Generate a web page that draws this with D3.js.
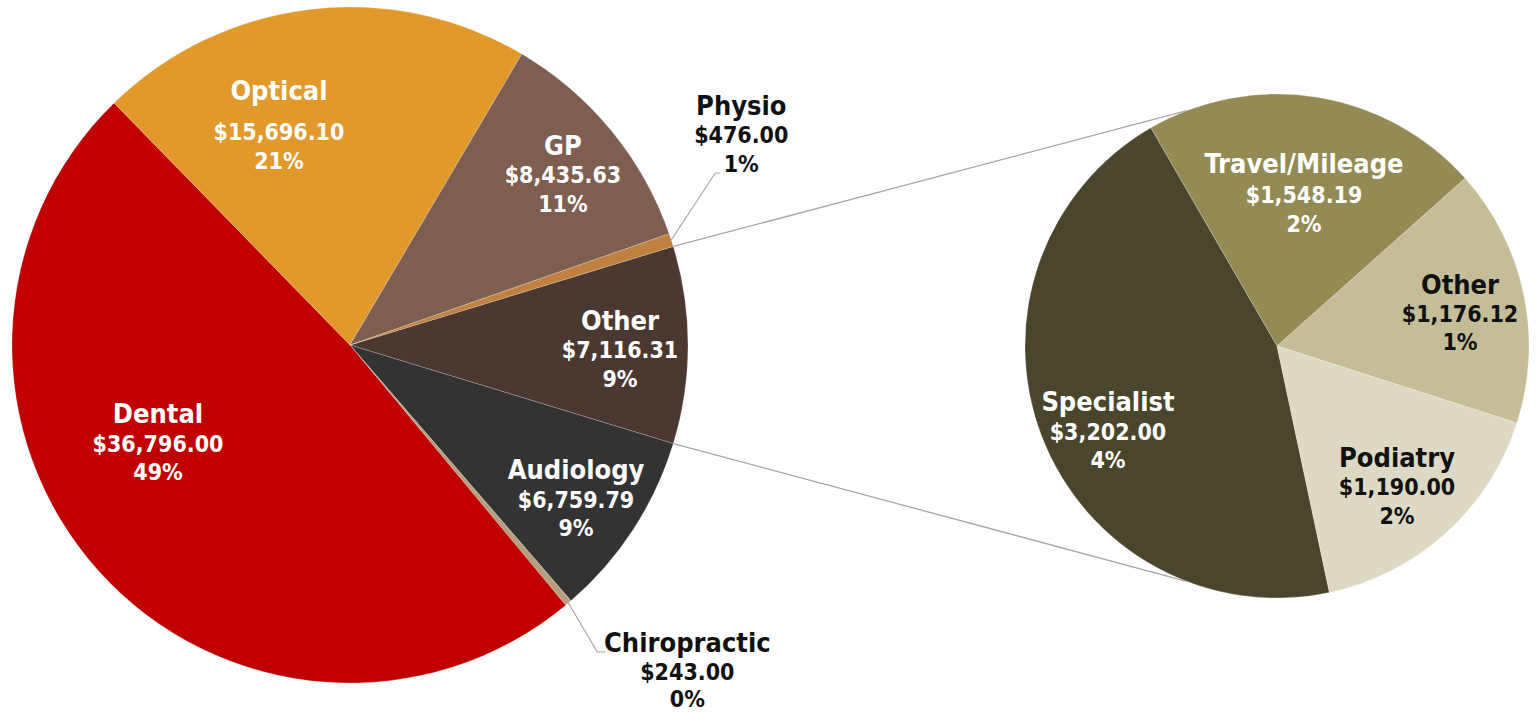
<!DOCTYPE html>
<html>
<head>
<meta charset="utf-8">
<script src="https://cdn.jsdelivr.net/npm/d3@7"></script>
<style>
  body { margin: 0; background: #fff; }
  text { font-family: "DejaVu Sans Condensed", "DejaVu Sans", sans-serif; font-weight: bold; font-stretch: condensed; }
</style>
</head>
<body>
<div id="chart"></div>
<script>
// size of the page
const width = 1538,
  height = 712;

// main pie data (first slice "Other" is the one split out to the right)
const mainNames = ["Other", "Audiology", "Chiropractic", "Dental", "Optical", "GP", "Physio"];
const mainValues = [7116.31, 6759.79, 243.00, 36796.00, 15696.10, 8435.63, 476.00];
const mainPct = ["9%", "9%", "0%", "49%", "21%", "11%", "1%"];

// second pie data (break-down of "Other")
const subNames = ["Specialist", "Travel/Mileage", "Other", "Podiatry"];
const subValues = [3202.00, 1548.19, 1176.12, 1190.00];
const subPct = ["4%", "2%", "1%", "2%"];

// colours
const mainColors = ["#4b3830", "#333333", "#b4a07e", "#c00000", "#e0992a", "#7d5e50", "#c0803f"];
const subColors = ["#4a452d", "#948a54", "#c4bd97", "#ddd9c4"];
const mainText = ["#fff", "#fff", "#111", "#fff", "#fff", "#fff", "#111"];
const subText = ["#fff", "#fff", "#111", "#111"];

// label placement: nudge from the label arc centroid [dx, dy, gap above the value line]
const mainNudge = {
  Other: [16.5, 13, 28.5],
  Audiology: [13.6, 24.6, 28.5],
  Dental: [-3.5, -62.5, 29],
  Optical: [-40.8, 46.7, 40],
  GP: [16.9, -1.3, 28.5]
};
const subNudge = {
  Specialist: [7.4, 26.2, 28.5],
  "Travel/Mileage": [-3, 43.6, 30],
  Other: [-1.9, 15.1, 27.5],
  Podiatry: [-6.7, 8.8, 28]
};
// labels outside the pie with a leader line: offset from slice edge, leader end offset from label
const outside = {
  Physio: { off: [70, -97], end: [-21, 30], elbow: -5, below: 28.5 },
  Chiropractic: { off: [119, 77], end: [-82, -28], elbow: -8, below: 26.5 }
};

const deg = Math.PI / 180;
const money = d3.format("$,.2f");

const svg = d3.select("#chart")
  .append("svg")
  .attr("width", width)
  .attr("height", height);

const main = { cx: 350, cy: 345, r: 338 };
const sub = { cx: 1277, cy: 346, r: 252 };

// main pie: the "Other" slice is centred on 3 o'clock
const total = d3.sum(mainValues);
const otherSpan = mainValues[0] / total * 2 * Math.PI;
const start = Math.PI / 2 - otherSpan / 2;
const mainPie = d3.pie().sort(null).startAngle(start).endAngle(start + 2 * Math.PI);
const mainArcs = mainPie(mainValues);

const subStart = 168 * deg;
const subPie = d3.pie().sort(null).startAngle(subStart).endAngle(subStart + 2 * Math.PI);
const subArcs = subPie(subValues);

// connector lines between the two pies
const otherArc = mainArcs[0];
const conn = [
  [otherArc.startAngle, 339 * deg],
  [otherArc.endAngle, 201 * deg]
];
svg.selectAll("line.conn")
  .data(conn)
  .join("line")
  .attr("class", "conn")
  .attr("x1", d => main.cx + d3.pointRadial(d[0], main.r)[0])
  .attr("y1", d => main.cy + d3.pointRadial(d[0], main.r)[1])
  .attr("x2", d => sub.cx + d3.pointRadial(d[1], sub.r)[0])
  .attr("y2", d => sub.cy + d3.pointRadial(d[1], sub.r)[1])
  .attr("stroke", "#a6a6a6")
  .attr("stroke-width", 1.3);

function drawPie(pos, arcs, names, pct, colors, textColors, nudge) {
  const g = svg.append("g").attr("transform", `translate(${pos.cx}, ${pos.cy})`);
  const arc = d3.arc().innerRadius(0).outerRadius(pos.r);
  const labelArc = d3.arc().innerRadius(pos.r * 0.75).outerRadius(pos.r * 0.75);
  const edgeArc = d3.arc().innerRadius(pos.r).outerRadius(pos.r);

  g.selectAll("path")
    .data(arcs)
    .join("path")
    .attr("d", arc)
    .attr("fill", (d, i) => colors[i])
    .attr("stroke", "#fff")
    .attr("stroke-opacity", 0.35)
    .attr("stroke-width", 0.6);

  arcs.forEach((d, i) => {
    const name = names[i];
    let x, y, gap = 28.5, below = 28.5;
    if (outside[name] && nudge === mainNudge) {
      const o = outside[name];
      const p = edgeArc.centroid(d);
      x = p[0] + o.off[0];
      y = p[1] + o.off[1];
      below = o.below;
      const end = [x + o.end[0], y + o.end[1]];
      g.append("polyline")
        .attr("points", [p, [end[0] + o.elbow, end[1]], end])
        .attr("fill", "none")
        .attr("stroke", "#a6a6a6")
        .attr("stroke-width", 1.2);
    } else {
      const c = labelArc.centroid(d);
      const n = nudge[name];
      x = c[0] + n[0];
      y = c[1] + n[1];
      gap = n[2];
    }
    const t = g.append("text")
      .attr("text-anchor", "middle")
      .attr("fill", textColors[i]);
    t.append("tspan").attr("x", x).attr("y", y - gap).style("font-size", "27px").text(name);
    t.append("tspan").attr("x", x).attr("y", y).style("font-size", "23px").text(money(d.data));
    t.append("tspan").attr("x", x).attr("y", y + below).style("font-size", "23px").text(pct[i]);
  });
}

drawPie(main, mainArcs, mainNames, mainPct, mainColors, mainText, mainNudge);
drawPie(sub, subArcs, subNames, subPct, subColors, subText, subNudge);
</script>
</body>
</html>
